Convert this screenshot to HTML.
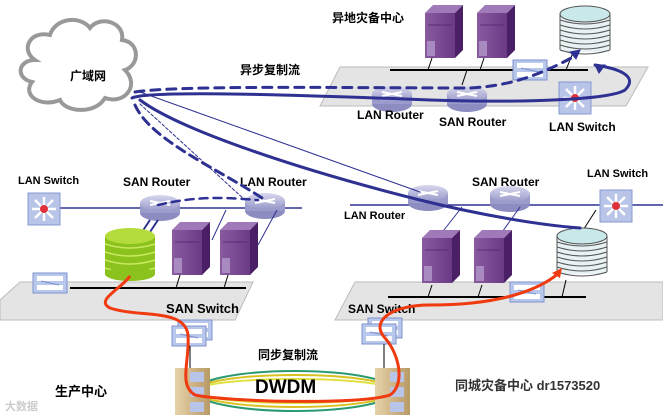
<!DOCTYPE html>
<html><head><meta charset="utf-8"><style>
html,body{margin:0;padding:0;background:#fff;}
svg{display:block;}
text{font-family:"Liberation Sans","Noto Sans CJK SC",sans-serif;font-weight:bold;fill:#000;}
</style></head><body>
<svg width="663" height="415" viewBox="0 0 663 415" xmlns="http://www.w3.org/2000/svg">
<defs>
<linearGradient id="srv" x1="0" x2="1"><stop offset="0" stop-color="#8a5aa0"/><stop offset="1" stop-color="#6a3a85"/></linearGradient>
<linearGradient id="rt" x1="0" y1="0" x2="0" y2="1"><stop offset="0" stop-color="#d8d8ee"/><stop offset="1" stop-color="#9a9acb"/></linearGradient>
<linearGradient id="dw" x1="0" x2="1"><stop offset="0" stop-color="#e6d2a8"/><stop offset="1" stop-color="#b89a66"/></linearGradient>
<g id="server"><polygon points="0,8 8,0 38,0 30,8" fill="#a07ab8"/><polygon points="30,8 38,0 38,45 30,53" fill="#4a1f66"/><rect x="0" y="8" width="30" height="45" fill="url(#srv)"/><line x1="3" y1="20" x2="27" y2="20" stroke="#5a2a75"/><rect x="2" y="36" width="8" height="15" fill="#a88ac0"/></g>
<g id="router"><ellipse cx="20" cy="18" rx="20" ry="8" fill="#8c8cc0"/><rect x="0" y="8" width="40" height="10" fill="#9c9ccc"/><ellipse cx="20" cy="8" rx="20" ry="8" fill="url(#rt)"/><path d="M10 6 L30 10 M10 10 L30 6" stroke="#fff" stroke-width="2"/></g>
<g id="lsw"><rect x="0" y="0" width="32" height="32" fill="#b8c4e8" stroke="#8898d0"/><path d="M16 4 V28 M4 16 H28 M7 7 L25 25 M25 7 L7 25" stroke="#fff" stroke-width="2.5"/><circle cx="16" cy="16" r="4" fill="#e0303a"/></g>
<g id="ssw"><rect x="0" y="0" width="34" height="20" fill="#b8c8ec" stroke="#7f92cc"/><rect x="4" y="3" width="26" height="5" fill="#fff"/><rect x="4" y="12" width="26" height="5" fill="#fff"/><path d="M8 8 L26 12" stroke="#7f92cc"/></g>
<g id="disk"><rect x="0" y="8" width="50" height="38" fill="#e8f2f4"/><g stroke="#555" stroke-width="1" fill="none"><path d="M0 14 Q25 22 50 14 M0 19 Q25 27 50 19 M0 24 Q25 32 50 24 M0 29 Q25 37 50 29 M0 34 Q25 42 50 34 M0 39 Q25 47 50 39 M0 44 Q25 52 50 44"/><line x1="0" y1="8" x2="0" y2="44"/><line x1="50" y1="8" x2="50" y2="44"/></g><ellipse cx="25" cy="8" rx="25" ry="8" fill="#c8e8ea" stroke="#555"/></g>
</defs>

<polygon points="340,67 648,67 626,106 320,106" fill="#e4e4e4" stroke="#bbb"/>
<polygon points="20,282 253,282 235,320 0,320 0,300" fill="#e4e4e4" stroke="#bbb"/>
<polygon points="355,282 663,282 663,320 335,320" fill="#e4e4e4" stroke="#bbb"/>

<path d="M35 60 C20 50 30 30 50 35 C55 18 80 15 90 28 C100 15 125 22 122 40 C140 42 140 65 125 70 C140 85 125 105 105 98 C95 115 65 112 60 100 C40 108 22 95 32 82 C15 78 18 60 35 60 Z" fill="#fff" stroke="#999" stroke-width="4"/>
<text x="70" y="80" font-size="12">广域网</text>

<text x="332" y="22" font-size="12">异地灾备中心</text>
<line x1="390" y1="70" x2="588" y2="70" stroke="#000" stroke-width="2"/>
<line x1="432" y1="58" x2="428" y2="70" stroke="#000"/><line x1="484" y1="58" x2="480" y2="70" stroke="#000"/>
<line x1="467" y1="70" x2="462" y2="85" stroke="#000"/><line x1="572" y1="55" x2="566" y2="70" stroke="#000"/>
<use href="#server" x="425" y="5"/><use href="#server" x="477" y="5"/>
<use href="#disk" x="560" y="6"/>
<use href="#ssw" x="513" y="60"/>
<use href="#router" x="372" y="86"/><use href="#router" x="447" y="86"/>
<use href="#lsw" x="559" y="82"/>
<text x="357" y="119" font-size="12">LAN Router</text>
<text x="439" y="126" font-size="12">SAN Router</text>
<text x="549" y="131" font-size="12">LAN Switch</text>
<text x="240" y="74" font-size="12">异步复制流</text>

<text x="18" y="184" font-size="11">LAN Switch</text>
<text x="123" y="186" font-size="12">SAN Router</text>
<text x="240" y="186" font-size="12">LAN Router</text>
<line x1="60" y1="208" x2="302" y2="208" stroke="#2e3192" stroke-width="1.5"/>
<use href="#lsw" x="28" y="193"/>
<use href="#router" x="140" y="195"/><use href="#router" x="245" y="193"/>
<line x1="150" y1="220" x2="142" y2="232" stroke="#2e3192" stroke-width="2"/><line x1="158" y1="220" x2="150" y2="232" stroke="#2e3192" stroke-width="2"/>
<line x1="226" y1="210" x2="212" y2="240" stroke="#2e3192"/><line x1="277" y1="210" x2="258" y2="245" stroke="#2e3192"/>
<line x1="70" y1="288" x2="246" y2="288" stroke="#000" stroke-width="2"/>
<line x1="180" y1="275" x2="176" y2="288" stroke="#000"/><line x1="228" y1="275" x2="224" y2="288" stroke="#000"/>
<g transform="translate(105,228)"><rect x="0" y="8" width="50" height="38" fill="#8cc21e"/><g stroke="#c8e860" stroke-width="1.5" fill="none"><path d="M0 16 Q25 24 50 16 M0 24 Q25 32 50 24 M0 32 Q25 40 50 32 M0 40 Q25 48 50 40"/></g><ellipse cx="25" cy="46" rx="25" ry="7" fill="#8cc21e"/><ellipse cx="25" cy="8" rx="25" ry="8" fill="#b4dc3c"/></g>
<use href="#server" x="172" y="222"/><use href="#server" x="220" y="222"/>
<use href="#ssw" x="33" y="273"/>
<text x="166" y="313" font-size="13">SAN Switch</text>
<use href="#ssw" x="178" y="320"/><use href="#ssw" x="172" y="326"/>
<line x1="190" y1="346" x2="190" y2="372" stroke="#000"/>
<text x="55" y="396" font-size="13">生产中心</text>
<text x="5" y="410" font-size="11" style="fill:#ccc">大数据</text>

<line x1="350" y1="205" x2="663" y2="205" stroke="#2e3192" stroke-width="1.5"/>
<use href="#router" x="408" y="185"/><use href="#router" x="490" y="186"/>
<use href="#lsw" x="600" y="190"/>
<text x="344" y="219" font-size="11">LAN Router</text>
<text x="472" y="186" font-size="12">SAN Router</text>
<text x="587" y="177" font-size="11">LAN Switch</text>
<line x1="462" y1="207" x2="440" y2="235" stroke="#2e3192"/><line x1="520" y1="207" x2="500" y2="235" stroke="#2e3192"/>
<line x1="596" y1="210" x2="580" y2="235" stroke="#000"/>
<line x1="388" y1="297" x2="586" y2="297" stroke="#000" stroke-width="2"/>
<line x1="432" y1="285" x2="428" y2="297" stroke="#000"/><line x1="482" y1="285" x2="478" y2="297" stroke="#000"/><line x1="566" y1="280" x2="562" y2="297" stroke="#000"/>
<use href="#server" x="422" y="230"/><use href="#server" x="474" y="230"/>
<use href="#disk" x="557" y="228"/>
<use href="#ssw" x="510" y="282"/>
<text x="348" y="313" font-size="12">SAN Switch</text>
<use href="#ssw" x="368" y="318"/><use href="#ssw" x="362" y="324"/>
<line x1="384" y1="344" x2="384" y2="372" stroke="#000"/>

<g stroke-width="2" fill="none">
<ellipse cx="295" cy="391" rx="100" ry="16" stroke="#d8c020"/>
<ellipse cx="295" cy="391" rx="100" ry="20" stroke="#2a9a70"/>
<ellipse cx="295" cy="391" rx="100" ry="12" stroke="#e0e040"/>
</g>
<rect x="175" y="368" width="35" height="47" fill="url(#dw)"/>
<rect x="190" y="372" width="14" height="10" fill="#b8c4e8"/><rect x="190" y="387" width="14" height="10" fill="#b8c4e8"/><rect x="190" y="402" width="14" height="10" fill="#b8c4e8"/>
<rect x="375" y="368" width="35" height="47" fill="url(#dw)"/>
<rect x="390" y="372" width="14" height="10" fill="#b8c4e8"/><rect x="390" y="387" width="14" height="10" fill="#b8c4e8"/><rect x="390" y="402" width="14" height="10" fill="#b8c4e8"/>
<text x="258" y="359" font-size="12">同步复制流</text>
<text x="255" y="393" font-size="19">DWDM</text>
<text x="455" y="390" font-size="13" style="fill:#333">同城灾备中心 dr1573520</text>

<g fill="none" stroke="#2e3192" stroke-linecap="round">
<path d="M132 98 C150 90 300 95 430 100 C520 103 610 100 625 90 C640 75 615 68 595 65" stroke-width="3"/>
<path d="M595 65 l10 0 l-6 8 z" fill="#2e3192" stroke-width="1"/>
<path d="M135 92 C180 85 350 88 470 88 C510 86 540 75 575 56" stroke-width="3" stroke-dasharray="9,7"/>
<path d="M570 52 l10 -2 l-4 9 z" fill="#2e3192" stroke-width="1"/>
<path d="M140 100 C180 130 300 170 420 200 C480 215 540 225 580 228" stroke-width="3"/>
<line x1="140" y1="92" x2="420" y2="192" stroke-width="1"/>
<path d="M135 105 C150 140 220 170 262 198" stroke-width="3" stroke-dasharray="9,6"/>
<line x1="140" y1="104" x2="245" y2="200" stroke-width="1" stroke-dasharray="3,2"/>
<path d="M158 205 C200 195 230 198 258 200" stroke-width="2.5" stroke-dasharray="8,6"/>
</g>
<path d="M130 276 C120 290 95 300 110 308 C140 318 185 308 188 335 C190 360 178 385 195 395 C230 402 360 405 390 395 C405 385 400 355 385 338 C370 322 390 305 430 305 C500 305 540 290 560 272" fill="none" stroke="#f03a10" stroke-width="3"/>
<path d="M562 268 l-2 10 l-8 -5 z" fill="#f03a10"/>
</svg>
</body></html>
